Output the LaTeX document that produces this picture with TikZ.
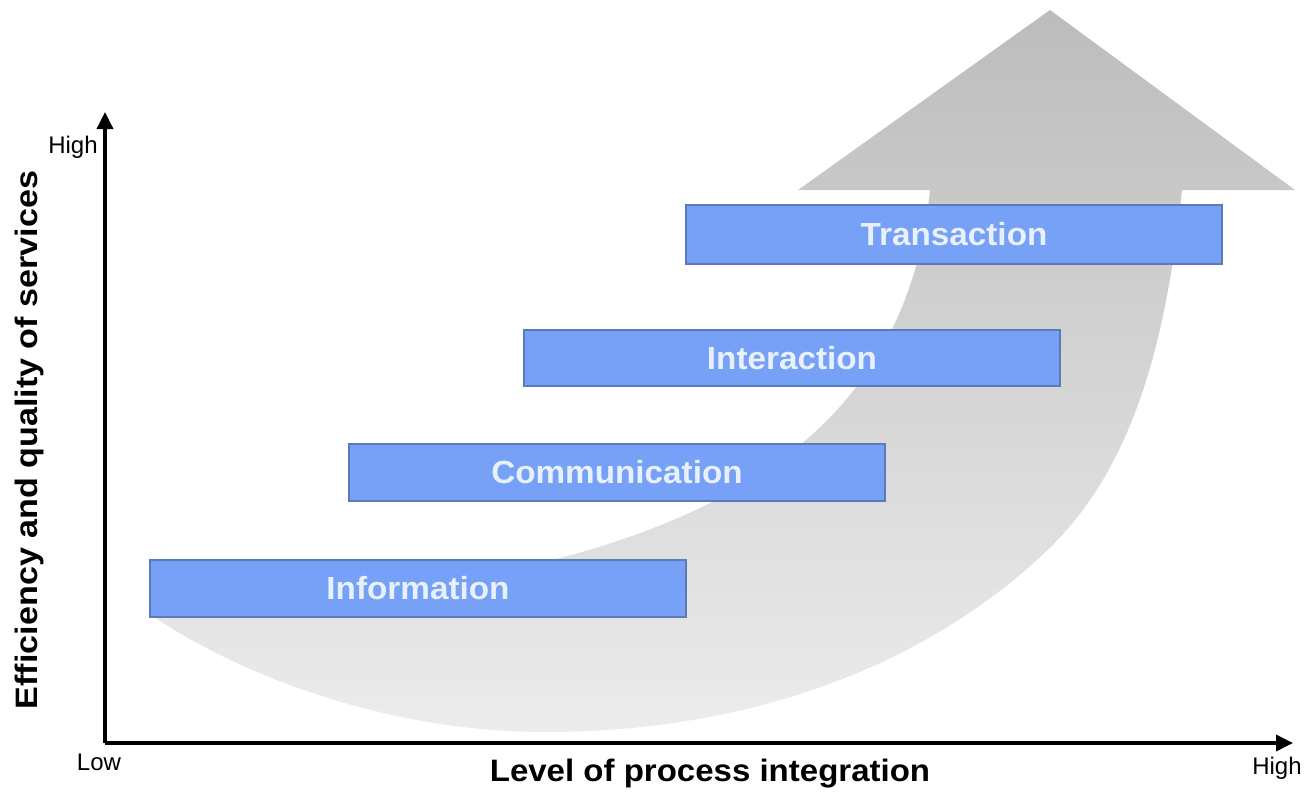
\documentclass[tikz,border=0pt]{standalone}
\usepackage{fontspec}
\setmainfont{Liberation Sans}
\usetikzlibrary{arrows.meta}
\definecolor{boxfill}{RGB}{118,161,246}
\definecolor{boxline}{RGB}{93,122,184}
\definecolor{boxtext}{RGB}{232,240,250}
\definecolor{arrtop}{RGB}{188,188,188}
\definecolor{arrbot}{RGB}{236,236,236}
\newcommand{\wider}[2]{\scalebox{#1}[1]{#2}}
\tikzset{
  stagebox/.style={draw=boxline, line width=1.2pt, fill=boxfill, text=boxtext,
    minimum width=536pt, inner sep=0pt,
    font=\fontsize{32}{36}\selectfont\bfseries},
  axisline/.style={line width=3.5pt, -{Triangle[length=17pt,width=16pt]}},
  ticklabel/.style={font=\fontsize{24}{27}\selectfont, inner sep=0pt},
  axislabel/.style={font=\fontsize{31}{34}\selectfont\bfseries, inner sep=0pt},
}
\begin{document}
\begin{tikzpicture}[x=1pt,y=-1pt]
\useasboundingbox (0,0) rectangle (1305,795);
% big curved gray arrow
\path[top color=arrtop, bottom color=arrbot]
  (1050,10) -- (1295,190) -- (1182,190)
  .. controls (1163,375) and (1120,486) .. (1037,560)
  .. controls (913,672) and (741,732) .. (545,732)
  .. controls (380,732) and (230,670) .. (150,614)
  .. controls (300,600) and (450,580) .. (560,558)
  .. controls (780,500) and (910,390) .. (930,190)
  -- (798,190) -- cycle;
% stages
\node[stagebox, minimum height=59pt] (trans) at (954,234.5) {\wider{1.04}{Transaction}};
\node[stagebox, minimum height=56pt] (inter) at (792,358) {\wider{1.04}{Interaction}};
\node[stagebox, minimum height=57pt] (comm) at (617,472.5) {\wider{1.04}{Communication}};
\node[stagebox, minimum height=57pt] (info) at (418,588.5) {\wider{1.04}{Information}};
% axes
\coordinate (origin) at (105,743);
\coordinate (ytip) at (105,112);
\coordinate (xtip) at (1293,743);
\draw[axisline] (origin) -- (ytip);
\draw[axisline] (origin) -- (xtip);
\node[ticklabel] (yhigh) at (73,147) {High};
\node[ticklabel] (low) at (99,762) {Low};
\node[ticklabel] (xhigh) at (1277,768) {High};
\node[axislabel] (xlab) at (710,774) {\wider{1.065}{Level of process integration}};
\node[axislabel, rotate=90] (ylab) at (29,440) {\wider{1.1}{Efficiency and quality of services}};
\end{tikzpicture}
\end{document}
